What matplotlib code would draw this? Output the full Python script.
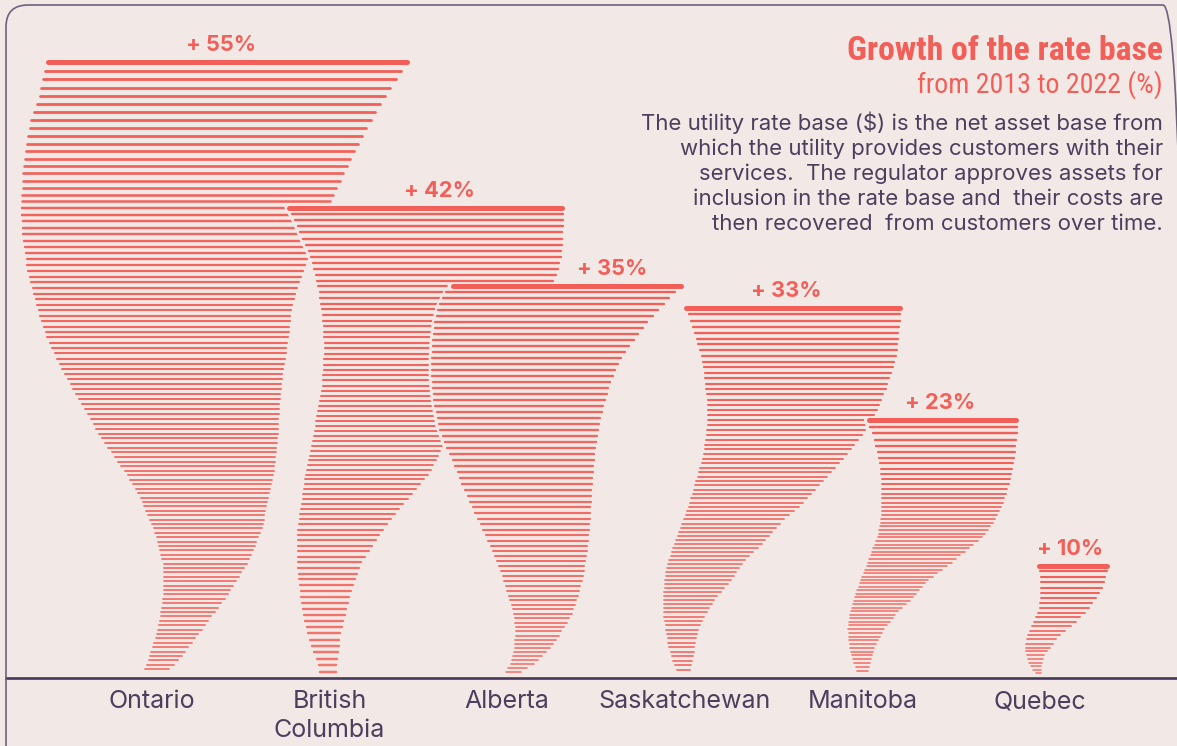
import numpy as np
import matplotlib
matplotlib.use("Agg")
import matplotlib.pyplot as plt
from matplotlib import font_manager as fm
from matplotlib.collections import LineCollection
from matplotlib.patches import FancyBboxPatch
from matplotlib.transforms import IdentityTransform, blended_transform_factory
from matplotlib.colors import to_rgb

# ---------------- data ----------------
provinces = ["Ontario", "British\nColumbia", "Alberta", "Saskatchewan", "Manitoba", "Quebec"]
growth = [55, 42, 35, 33, 23, 10]
growth_labels = ["+ 55%", "+ 42%", "+ 35%", "+ 33%", "+ 23%", "+ 10%"]

title_text = "Growth of the rate base"
subtitle_text = "from 2013 to 2022 (%)"
note_lines = [
    "The utility rate base ($) is the net asset base from",
    "which the utility provides customers with their",
    "services.  The regulator approves assets for",
    "inclusion in the rate base and  their costs are",
    "then recovered  from customers over time.",
]

# tornado outlines: t = fraction of bar height (1 = top), edges as offsets in category widths
ontario_t = [1.0, 0.985, 0.945, 0.906, 0.868, 0.829, 0.776, 0.711, 0.657, 0.602, 0.548, 0.494,
             0.439, 0.385, 0.332, 0.293, 0.239, 0.185, 0.130, 0.076, 0.023, 0.008]
ontario_left = [-0.60, -0.61, -0.64, -0.69, -0.71, -0.73, -0.74, -0.73, -0.70, -0.65, -0.59, -0.50,
                -0.39, -0.28, -0.15, -0.07, 0.01, 0.06, 0.06, 0.03, -0.03, -0.05]
ontario_right = [1.45, 1.41, 1.32, 1.24, 1.17, 1.10, 1.01, 0.92, 0.85, 0.79, 0.77, 0.74,
                 0.72, 0.71, 0.69, 0.66, 0.62, 0.54, 0.42, 0.28, 0.14, 0.08]

bc_t = [1.0, 0.968, 0.932, 0.896, 0.861, 0.825, 0.768, 0.697, 0.627, 0.563, 0.505, 0.435,
        0.384, 0.313, 0.243, 0.171, 0.100, 0.030, 0.011]
bc_left = [-0.24, -0.195, -0.155, -0.11, -0.088, -0.065, -0.043, -0.032, -0.043, -0.071, -0.099, -0.139,
           -0.155, -0.184, -0.184, -0.167, -0.133, -0.071, -0.06]
bc_right = [1.325, 1.32, 1.314, 1.309, 1.286, 1.241, 1.157, 1.044, 0.903, 0.762, 0.661, 0.565,
            0.453, 0.301, 0.182, 0.115, 0.07, 0.042, 0.042]

alberta_t = [1.0, 0.985, 0.949, 0.908, 0.864, 0.821, 0.762, 0.710, 0.641, 0.590, 0.556, 0.505,
             0.421, 0.333, 0.249, 0.164, 0.121, 0.077, 0.036, 0.010]
alberta_left = [-0.321, -0.349, -0.389, -0.411, -0.422, -0.428, -0.428, -0.417, -0.389, -0.349, -0.31, -0.27,
                -0.186, -0.096, -0.023, 0.034, 0.045, 0.039, 0.017, -0.017]
alberta_right = [0.991, 0.952, 0.878, 0.794, 0.721, 0.653, 0.591, 0.557, 0.518, 0.501, 0.495, 0.484,
                 0.473, 0.456, 0.428, 0.372, 0.315, 0.253, 0.158, 0.068]

sask_t = [1.0, 0.984, 0.921, 0.874, 0.831, 0.784, 0.738, 0.694, 0.648, 0.601, 0.557, 0.511,
          0.464, 0.421, 0.355, 0.311, 0.265, 0.219, 0.175, 0.128, 0.082, 0.038, 0.011]
sask_left = [-0.009, 0.014, 0.059, 0.087, 0.104, 0.115, 0.126, 0.126, 0.115, 0.104, 0.075, 0.047,
             0.019, -0.015, -0.065, -0.099, -0.116, -0.122, -0.122, -0.11, -0.093, -0.065, -0.037]
sask_right = [1.224, 1.219, 1.207, 1.196, 1.173, 1.139, 1.10, 1.055, 0.988, 0.914, 0.83, 0.745,
              0.65, 0.548, 0.425, 0.329, 0.267, 0.183, 0.126, 0.075, 0.059, 0.042, 0.03]

manitoba_t = [1.0, 0.976, 0.929, 0.863, 0.800, 0.733, 0.667, 0.604, 0.549, 0.510, 0.447, 0.380,
              0.314, 0.251, 0.184, 0.118, 0.055, 0.016]
manitoba_left = [0.023, 0.034, 0.062, 0.084, 0.101, 0.107, 0.107, 0.101, 0.084, 0.062, 0.028, -0.011,
                 -0.045, -0.073, -0.084, -0.073, -0.051, -0.028]
manitoba_right = [0.878, 0.878, 0.873, 0.861, 0.845, 0.822, 0.788, 0.743, 0.687, 0.619, 0.507, 0.377,
                  0.293, 0.197, 0.124, 0.073, 0.045, 0.034]

quebec_t = [1.0, 0.949, 0.847, 0.737, 0.627, 0.542, 0.458, 0.373, 0.288, 0.203, 0.119, 0.034]
quebec_left = [-0.017, -0.006, 0.0, 0.0, -0.006, -0.028, -0.051, -0.073, -0.084, -0.079, -0.062, -0.028]
quebec_right = [0.394, 0.383, 0.366, 0.332, 0.282, 0.236, 0.18, 0.113, 0.068, 0.028, 0.011, 0.011]

outlines = [
    (ontario_t, ontario_left, ontario_right),
    (bc_t, bc_left, bc_right),
    (alberta_t, alberta_left, alberta_right),
    (sask_t, sask_left, sask_right),
    (manitoba_t, manitoba_left, manitoba_right),
    (quebec_t, quebec_left, quebec_right),
]

# ---------------- style / layout ----------------
W, H = 1177, 746
BG = "#F2E8E5"
RED = "#F25F58"
LIGHT = "#F4A29C"
DARK = "#4B3F5E"
BASE_C = "#45385A"
FRAME_C = "#6F6280"

CAT_PX = 177.6     # pixels per category
X0_PX = 152.0      # pixel of first category centre
BASE_PX = 677.5    # pixel row of the zero line
PCT_PX = 11.19     # pixels per percentage point

# line spacing (px) along each tornado, by height fraction
spacing_t = [[1, 0.65, 0.3, 0], [1, 0.45, 0], [1, 0.5, 0], [1, 0.55, 0.3, 0], [1, 0.6, 0.35, 0], [1, 0]]
spacing_px = [[8.7, 5.7, 4.4, 4.4], [6.3, 4.7, 6.7], [6.0, 6.0, 3.7], [6.2, 4.4, 3.9, 4.7],
              [6.7, 3.7, 3.4, 4.0], [5.7, 3.3]]
label_dx = [0.39, 0.62, 0.59, 0.57, 0.44, 0.17]   # label offset, category widths


def pick(cands):
    names = {f.name for f in fm.fontManager.ttflist}
    for c in cands:
        if c in names:
            return c
    return "DejaVu Sans"


narrow = pick(["Liberation Sans Narrow", "Roboto Condensed", "Open Sans Condensed", "DejaVu Sans"])
body = pick(["Inter", "Open Sans", "Noto Sans", "DejaVu Sans"])
cond_stretch = "condensed" if narrow == "DejaVu Sans" else "normal"

fig = plt.figure(figsize=(W / 100, H / 100), dpi=100)
fig.patch.set_facecolor(BG)
ax = fig.add_axes([0, 0, 1, 1])
ax.set_facecolor(BG)
ax.set_xlim(-X0_PX / CAT_PX, (W - X0_PX) / CAT_PX)
ax.set_ylim(-(H - BASE_PX) / PCT_PX, BASE_PX / PCT_PX)
ax.axis("off")

red_rgb = np.array(to_rgb(RED))
light_rgb = np.array(to_rgb(LIGHT))
gap = 3.0 / CAT_PX
pct_texts = []

for k, (v, (tt, ll, rr)) in enumerate(zip(growth, outlines)):
    tt_a = np.array(tt)[::-1]
    ll_a = np.array(ll)[::-1]
    rr_a = np.array(rr)[::-1]
    st = np.array(spacing_t[k])[::-1]
    sp = np.array(spacing_px[k])[::-1]
    tmin = tt_a[0]
    z = 2 + 2 * k

    # occluding backdrop
    yy = np.linspace(0, v, 300)
    tf = np.clip(yy / v, tmin, 1)
    lp = k + np.interp(tf, tt_a, ll_a) - gap
    rp = k + np.interp(tf, tt_a, rr_a) + 0.01
    yy = np.append(yy, v + 3.0 / PCT_PX)
    lp = np.append(lp, lp[-1])
    rp = np.append(rp, rp[-1])
    ax.fill_betweenx(yy, lp, rp, color=BG, lw=0, zorder=z)

    segs, lws, cols = [], [], []
    y = float(v)
    first = True
    while y / v >= tmin - 1e-6:
        t = y / v
        s = np.interp(t, st, sp)
        L = k + np.interp(t, tt_a, ll_a)
        R = k + np.interp(t, tt_a, rr_a)
        if first:
            lw_px = 5.0
            col = red_rgb
        else:
            lw_px = float(np.clip(0.3 * s + 0.5, 1.3, 2.8))
            m = 0.35 * (1 - t) ** 1.2
            col = red_rgb * (1 - m) + light_rgb * m
        sh = lw_px / 2 / CAT_PX
        segs.append([(L + sh, y), (R - sh, y)])
        lws.append(lw_px * 0.72)
        cols.append(col)
        y -= s / PCT_PX
        first = False
    lc = LineCollection(segs, linewidths=lws, colors=cols, capstyle="round", zorder=z + 1)
    ax.add_collection(lc)

    # growth label
    pct_texts.append(ax.text(k + label_dx[k], v + 17.0 / PCT_PX, growth_labels[k], ha="center",
                             va="center", color=RED, fontsize=14, fontweight="bold", family=body,
                             zorder=20))

# baseline
ax.axhline(0, xmin=6 / W, xmax=1, color=BASE_C, lw=1.9, zorder=30)

# frame
frame = FancyBboxPatch((6, -40), 1185 - 6, (H - 5) + 40,
                       boxstyle="round,pad=0,rounding_size=22",
                       transform=IdentityTransform(), fc="none", ec=FRAME_C, lw=1.2)
fig.add_artist(frame)

# category labels (anchor on the baseline of the last line)
tr = blended_transform_factory(ax.transData, fig.transFigure)
cat_texts = []
for k, name in enumerate(provinces):
    nl = name.count("\n")
    t = ax.text(k, 1 - (708 + 29 * nl) / H, name, transform=tr, ha="center", va="baseline",
                color=DARK, fontsize=15, family=body, linespacing=1.35)
    cat_texts.append(t)

# title block
ttl = fig.text(1163 / W, 1 - 60 / H, title_text, ha="right", va="baseline", color=RED,
               fontsize=26, fontweight="bold", family=narrow, fontstretch=cond_stretch)
sub = fig.text(1163 / W, 1 - 93 / H, subtitle_text, ha="right", va="baseline", color=RED,
               fontsize=22, family=narrow, fontstretch=cond_stretch)
note_base = [130, 155, 180, 205, 230]
notes = []
for yb, line in zip(note_base, note_lines):
    notes.append(fig.text(1163 / W, 1 - yb / H, line, ha="right", va="baseline", color=DARK,
                          fontsize=14, family=body))

# fit text sizes to the reference widths
r = fig.canvas.get_renderer()


def fit(txt, target):
    w = txt.get_window_extent(r).width
    txt.set_fontsize(txt.get_fontsize() * target / w)
    return txt.get_fontsize()


fit(ttl, 316)
fit(sub, 246)
fs = fit(notes[0], 522)
for n in notes[1:]:
    n.set_fontsize(fs)
fs = fit(cat_texts[3], 173)
for c in cat_texts:
    c.set_fontsize(fs)
fs = fit(pct_texts[0], 70)
for p in pct_texts:
    p.set_fontsize(fs)

fig.savefig("out.png", dpi=100, facecolor=BG)
